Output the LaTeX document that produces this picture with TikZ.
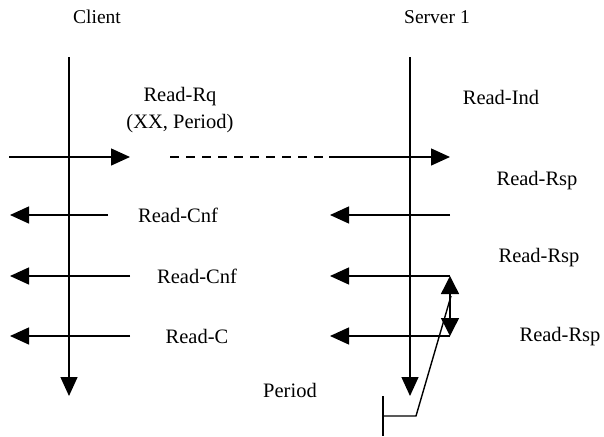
\documentclass[tikz,border=0pt]{standalone}
\usepackage{fontspec}
\setmainfont{Liberation Serif}
\usetikzlibrary{arrows.meta}
\begin{document}
\begin{tikzpicture}[x=1pt,y=-1pt,
  lbl/.style={font=\fontsize{20.5}{24}\selectfont, inner sep=0pt},
  ttl/.style={font=\fontsize{19.5}{23}\selectfont, inner sep=0pt},
  ln/.style={line width=1.4pt},
  arr/.style={ln,-{Triangle[length=19pt,width=17pt]}},
  darr/.style={ln,{Triangle[length=18pt,width=18pt]}-{Triangle[length=18pt,width=18pt]}}]
\useasboundingbox (0,0) rectangle (604,436);
% titles
\node[ttl] (client) at (97,17) {Client};
\node[ttl] (server) at (437,17) {Server 1};
% lifelines
\coordinate (c0) at (69,57); \coordinate (c1) at (69,396);
\coordinate (s0) at (410,57); \coordinate (s1) at (410,396);
\draw[arr] (c0) -- (c1);
\draw[arr] (s0) -- (s1);
% request
\coordinate (r0) at (9,157); \coordinate (r1) at (130,157);
\coordinate (r2) at (170,157); \coordinate (r3) at (329,157);
\coordinate (r4) at (450,157);
\draw[arr] (r0) -- (r1);
\draw[ln,dash pattern=on 9pt off 7pt] (r2) -- (r3);
\draw[arr] (r3) -- (r4);
\node[lbl] (rq) at (180,97) {Read-Rq};
\node[lbl] (rqp) at (180,124) {(XX, Period)};
\node[lbl] (ind) at (501,97) {Read-Ind};
% responses
\coordinate (a1) at (108,215); \coordinate (a1e) at (10,215);
\coordinate (b1) at (450,215); \coordinate (b1e) at (330,215);
\draw[arr] (a1) -- (a1e);
\draw[arr] (b1) -- (b1e);
\coordinate (a2) at (130,276); \coordinate (a2e) at (10,276);
\coordinate (b2) at (450,276); \coordinate (b2e) at (330,276);
\draw[arr] (a2) -- (a2e);
\draw[arr] (b2) -- (b2e);
\coordinate (a3) at (130,336); \coordinate (a3e) at (10,336);
\coordinate (b3) at (450,336); \coordinate (b3e) at (330,336);
\draw[arr] (a3) -- (a3e);
\draw[arr] (b3) -- (b3e);
\node[lbl] (rsp1) at (537,181) {Read-Rsp};
\node[lbl] (cnf1) at (178,215) {Read-Cnf};
\node[lbl] (rsp2) at (539,258) {Read-Rsp};
\node[lbl] (cnf2) at (197,276) {Read-Cnf};
\node[lbl] (rc) at (197,336) {Read-C};
\node[lbl] (rsp3) at (560,337) {Read-Rsp};
% period
\draw[darr] (b2) -- (b3);
\coordinate (p0) at (383,396); \coordinate (p1) at (383,436);
\coordinate (p2) at (383,416); \coordinate (p3) at (416,416);
\coordinate (p4) at (451,296);
\draw[ln] (p0) -- (p1);
\draw[ln] (p2) -- (p3) -- (p4);
\node[lbl] (per) at (290,390) {Period};
\end{tikzpicture}
\end{document}
